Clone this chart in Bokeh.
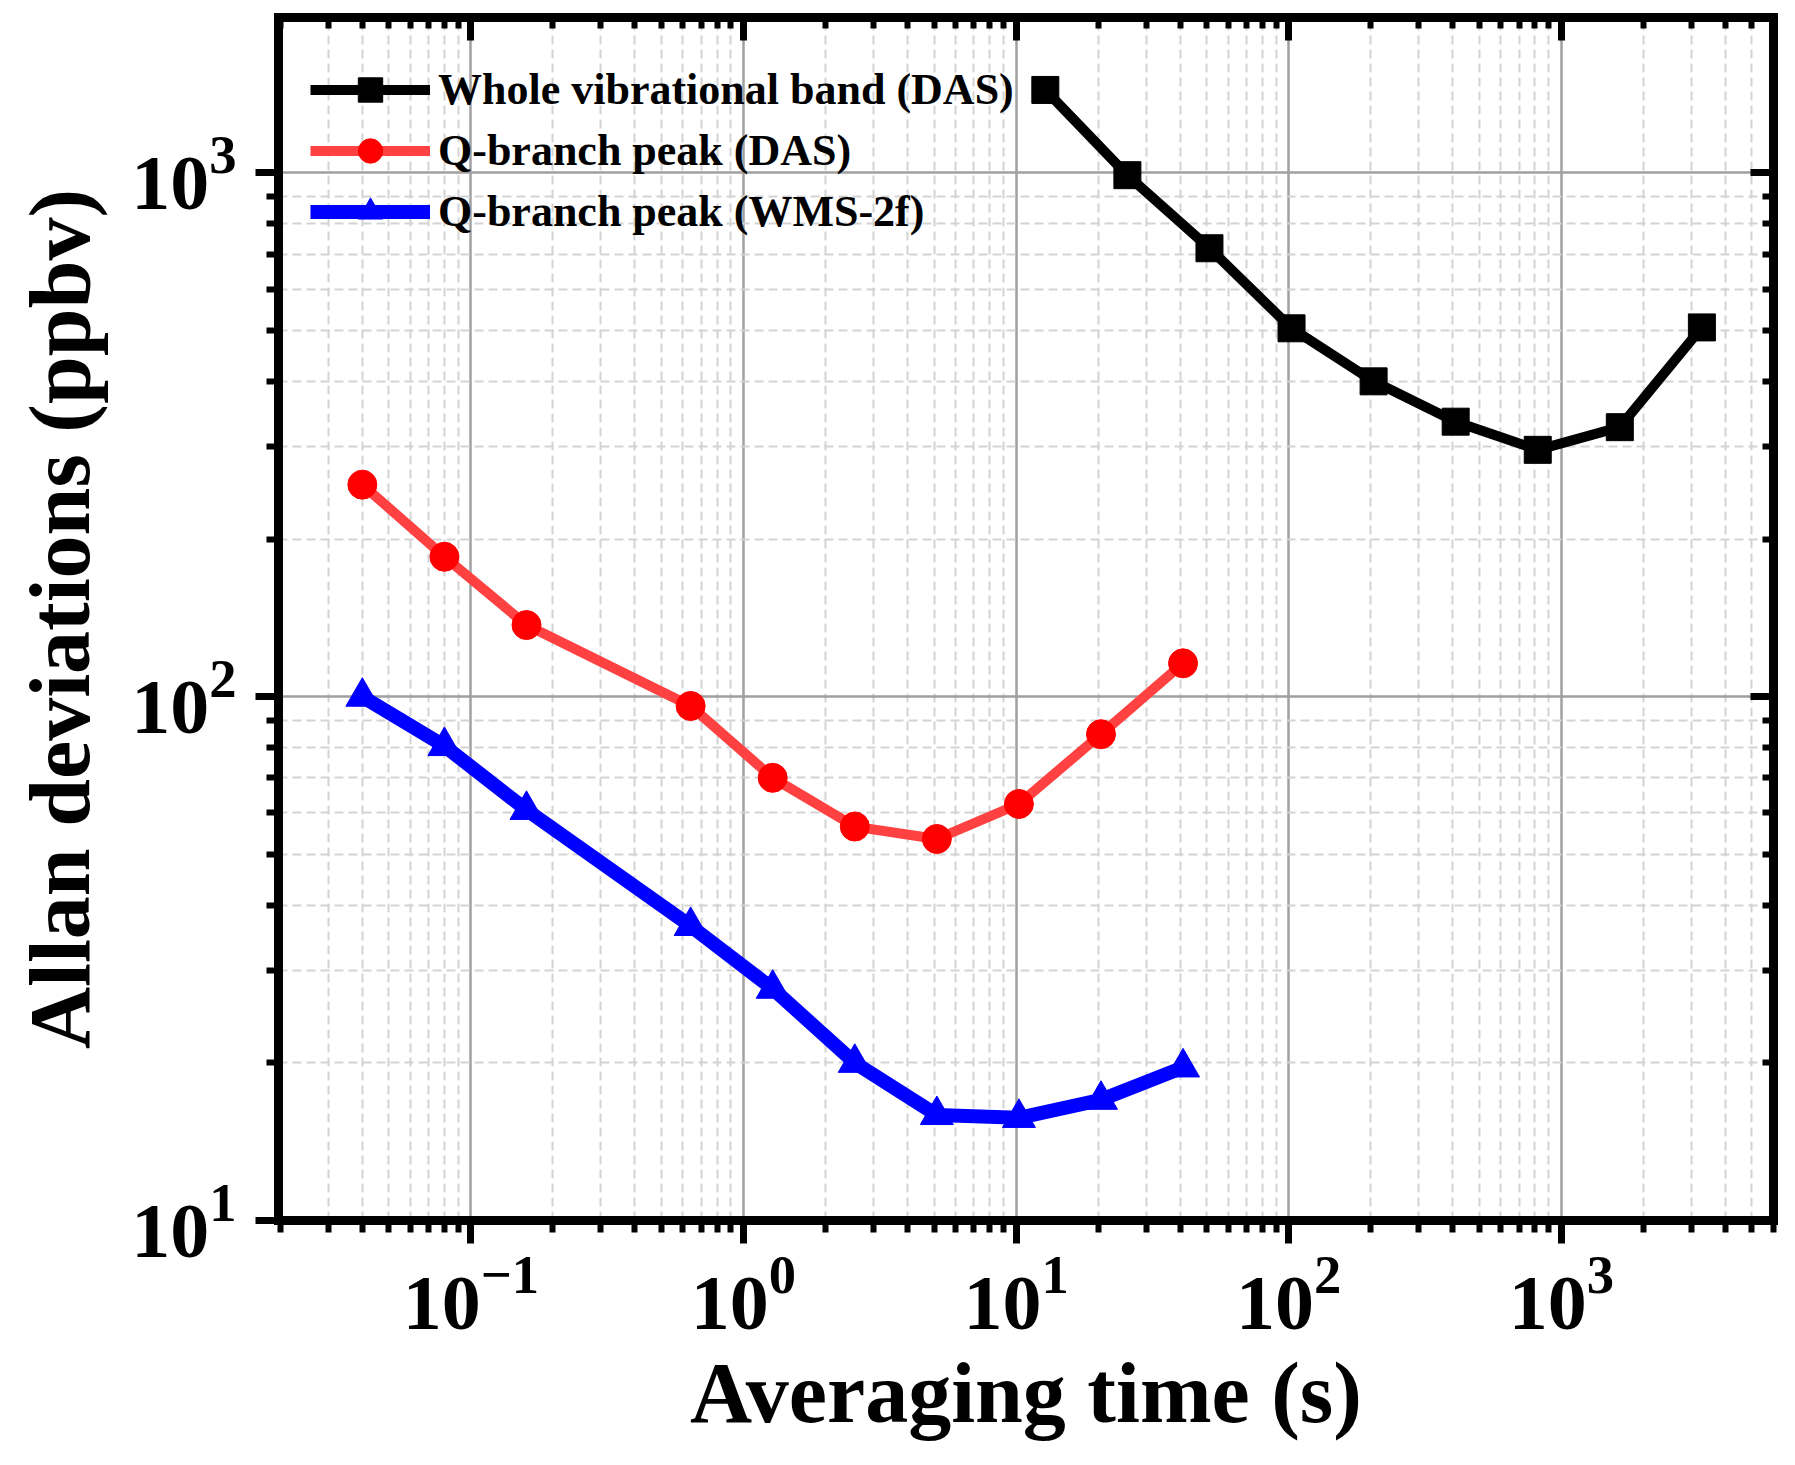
from bokeh.plotting import figure
from bokeh.models import LogAxis, FixedTicker, CustomJSTickFormatter
from bokeh.embed import file_html
from bokeh.resources import INLINE

# averaging time (s) and Allan deviation (ppbv)
tau_whole = [12.8, 25.6, 51.2, 102.4, 204.8, 409.6, 819.2, 1638.4, 3276.8]
dev_whole = [1440, 990, 718, 505, 400, 335, 296, 327, 507]

tau_q = [0.04, 0.08, 0.16, 0.64, 1.28, 2.56, 5.12, 10.24, 20.48, 40.96]
dev_q_das = [254, 185, 137, 96, 70, 56.5, 53.5, 62.4, 84.8, 115.8]
dev_q_wms = [100, 80.5, 60.8, 36.5, 27.7, 20.0, 15.9, 15.7, 17.0, 19.6]

labels = ["Whole vibrational band (DAS)", "Q-branch peak (DAS)", "Q-branch peak (WMS-2f)"]

x_major = [0.1, 1, 10, 100, 1000]
y_major = [10, 100, 1000]

FONT = "Liberation Serif"

x_minor = [m * 10.0 ** e for e in range(-2, 4) for m in range(2, 10)]
y_minor = [m * 10.0 ** e for e in range(1, 4) for m in range(2, 10)]

p = figure(width=1787, height=1457, x_axis_type="log", y_axis_type="log",
           x_range=(0.0197, 6000), y_range=(10, 1980),
           output_backend="svg", toolbar_location=None,
           min_border_left=278, min_border_right=14,
           min_border_top=17, min_border_bottom=237)
p.outline_line_color = None
p.background_fill_color = "white"
p.border_fill_color = "white"

# curves
p.line(tau_whole, dev_whole, line_color="black", line_width=10, legend_label=labels[0])
p.scatter(tau_whole, dev_whole, marker="square", size=27, color="black", legend_label=labels[0])

p.line(tau_q, dev_q_das, line_color="#FF4141", line_width=10, legend_label=labels[1])
p.scatter(tau_q, dev_q_das, marker="circle", size=29, color="#FF0000", legend_label=labels[1])

p.line(tau_q, dev_q_wms, line_color="#0000FF", line_width=14, legend_label=labels[2])
p.scatter(tau_q, dev_q_wms, marker="triangle", size=33, color="#0000FF", legend_label=labels[2])

xt = FixedTicker(ticks=x_major, minor_ticks=x_minor)
yt = FixedTicker(ticks=y_major, minor_ticks=y_minor)
p.xaxis.ticker = xt
p.yaxis.ticker = yt

p.xaxis.axis_label = "Averaging time (s)"
p.yaxis.axis_label = "Allan deviations (ppbv)"

for ax in (p.xaxis[0], p.yaxis[0]):
    ax.axis_line_width = 9
    ax.axis_line_cap = "square"
    ax.major_tick_line_width = 7
    ax.minor_tick_line_width = 6
    ax.major_tick_out = 23
    ax.major_tick_in = 0
    ax.minor_tick_out = 12
    ax.minor_tick_in = 0
    ax.major_label_text_font = FONT
    ax.major_label_text_font_style = "bold"
    ax.major_label_text_font_size = "78px"
    ax.major_label_text_color = "black"
    ax.axis_label_text_font = FONT
    ax.axis_label_text_font_style = "bold"
    ax.axis_label_text_font_size = "86px"
    ax.axis_label_text_color = "black"

p.xaxis.major_label_standoff = 12
p.yaxis.major_label_standoff = 19
p.xaxis.axis_label_standoff = 13
p.yaxis.axis_label_standoff = 20

# mirrored axes with inward ticks and no labels
for side, tk in (("above", xt), ("right", yt)):
    ax = LogAxis(ticker=tk, formatter=CustomJSTickFormatter(code="return ''"),
                 axis_line_width=9, axis_line_cap="square",
                 major_tick_line_width=7, minor_tick_line_width=6,
                 major_tick_in=23, major_tick_out=0,
                 minor_tick_in=11, minor_tick_out=0,
                 major_label_text_font_size="1px", major_label_standoff=0)
    p.add_layout(ax, side)

for g in (p.xgrid[0], p.ygrid[0]):
    g.grid_line_color = "#A0A0A0"
    g.grid_line_width = 2.5
    g.minor_grid_line_color = "#D3D3D3"
    g.minor_grid_line_width = 2
    g.minor_grid_line_dash = "9 5"

leg = p.legend[0]
leg.location = (22, 968)
leg.margin = 0
leg.padding = 10
leg.spacing = 0
leg.glyph_width = 120
leg.glyph_height = 61
leg.label_standoff = 8
leg.label_text_font = FONT
leg.label_text_font_style = "bold"
leg.label_text_font_size = "44px"
leg.label_text_color = "black"
leg.background_fill_alpha = 0
leg.border_line_alpha = 0

open("out.html", "w").write(file_html(p, INLINE))
